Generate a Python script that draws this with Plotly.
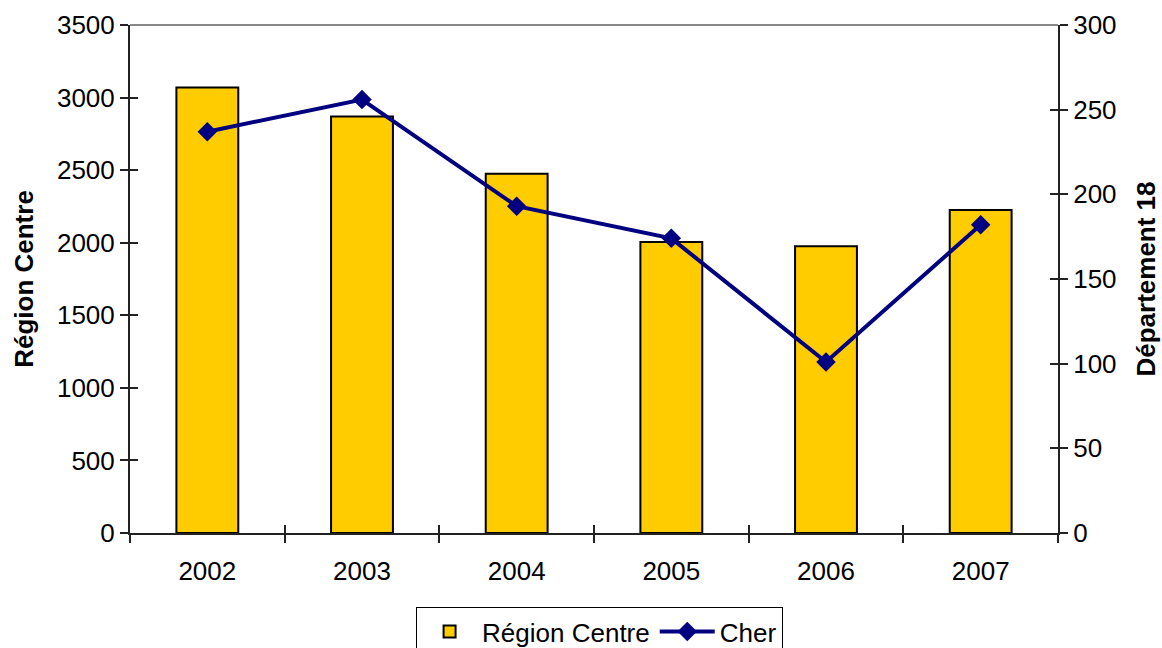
import plotly.graph_objects as go

# Annual figures
years = ["2002", "2003", "2004", "2005", "2006", "2007"]
region_centre = [3070, 2870, 2475, 2005, 1975, 2225]
cher = [237, 256, 193, 174, 101, 182]

left_ticks = [0, 500, 1000, 1500, 2000, 2500, 3000, 3500]
right_ticks = [0, 50, 100, 150, 200, 250, 300]

FONT = "Liberation Sans, Arial, sans-serif"
FS = 26

fig = go.Figure()

fig.add_trace(go.Bar(
    x=years, y=region_centre, name="Région Centre",
    marker=dict(color="#FFCC00", line=dict(color="#000000", width=2)),
    yaxis="y",
))
fig.add_trace(go.Scatter(
    x=years, y=cher, name="Cher", mode="lines+markers",
    line=dict(color="#000080", width=4),
    marker=dict(symbol="diamond", size=15, color="#000080"),
    yaxis="y2",
))

axis_common = dict(showgrid=False, zeroline=False, linecolor="#222222",
                   linewidth=2, tickcolor="#222222", tickwidth=1.5)

fig.update_layout(
    width=1162, height=648,
    margin=dict(l=130, r=104, t=25, b=115, autoexpand=False),
    paper_bgcolor="white", plot_bgcolor="white",
    font=dict(family=FONT, size=FS, color="#000000"),
    bargap=0.6,
    showlegend=True,
    legend=dict(orientation="h", x=0.506, xanchor="center", y=-0.146, yanchor="top",
                bordercolor="#000000", borderwidth=1, bgcolor="white",
                font=dict(size=FS), itemwidth=55, tracegroupgap=0),
    xaxis=dict(type="category", categoryorder="array", categoryarray=years,
               range=[-0.5, 5.5], tickson="boundaries", ticks="outside", ticklen=8,
               showline=True, ticklabelstandoff=14, **axis_common),
    yaxis=dict(range=[0, 3500], tickvals=left_ticks, ticks="outside", ticklen=8,
               showline=True,
               title=dict(text="<b>Région Centre</b>", standoff=16,
                          font=dict(size=FS)),
               **axis_common),
    yaxis2=dict(range=[0, 300], tickvals=right_ticks, ticks="outside", ticklen=8,
                showline=True, overlaying="y", side="right", anchor="x",
                title=dict(text="<b>Département 18</b>", standoff=21,
                           font=dict(size=FS)),
                **axis_common),
    # inner halves of the crossing tick marks
    xaxis2=dict(range=[-0.5, 5.5], tickvals=[-0.5, 0.5, 1.5, 2.5, 3.5, 4.5, 5.5],
                ticks="inside", ticklen=8, showticklabels=False, showline=False,
                overlaying="x", anchor="y", **axis_common),
    yaxis3=dict(range=[0, 3500], tickvals=left_ticks, ticks="inside", ticklen=8,
                showticklabels=False, showline=False, overlaying="y", side="left",
                anchor="x", **axis_common),
    yaxis4=dict(range=[0, 300], tickvals=right_ticks, ticks="inside", ticklen=8,
                showticklabels=False, showline=False, overlaying="y", side="right",
                anchor="x", **axis_common),
    shapes=[dict(type="line", xref="paper", yref="paper", x0=0, x1=1, y0=1, y1=1,
                 line=dict(color="#888888", width=2))],
)

# empty traces so the overlay axes are drawn
fig.add_trace(go.Scatter(x=[None], y=[None], xaxis="x2", yaxis="y3",
                         showlegend=False, hoverinfo="skip"))
fig.add_trace(go.Scatter(x=[None], y=[None], xaxis="x2", yaxis="y4",
                         showlegend=False, hoverinfo="skip"))

fig.write_html("out.html")
